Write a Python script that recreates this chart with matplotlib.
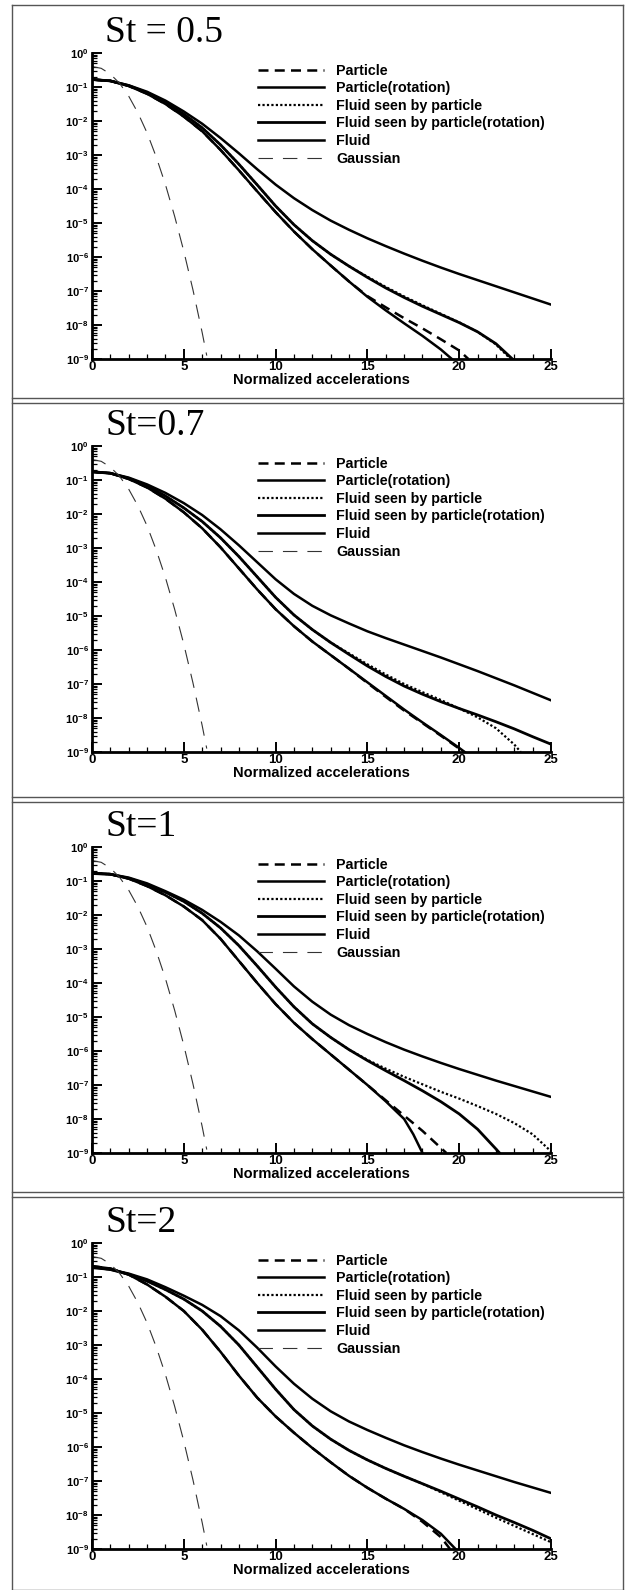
import numpy as np
import matplotlib
matplotlib.use("Agg")
import matplotlib.pyplot as plt
from matplotlib.lines import Line2D
from matplotlib.ticker import LogLocator, FixedLocator, FuncFormatter

plt.rcParams['font.family'] = ['Liberation Sans', 'DejaVu Sans']
plt.rcParams['font.weight'] = 'bold'
plt.rcParams['mathtext.fontset'] = 'custom'
plt.rcParams['mathtext.rm'] = 'Liberation Sans:bold'
plt.rcParams['mathtext.it'] = 'Liberation Sans:bold'
plt.rcParams['mathtext.bf'] = 'Liberation Sans:bold'

# data: log10 of pdf, x = normalized acceleration
titles = ['St = 0.5', 'St=0.7', 'St=1', 'St=2']
labels = ['Particle', 'Particle(rotation)', 'Fluid seen by particle',
          'Fluid seen by particle(rotation)', 'Fluid', 'Gaussian']

acc = list(range(26))

gauss_x = [0, 0.5, 1, 1.5, 2, 2.5, 3, 3.5, 4, 4.5, 5, 5.5, 6, 6.25]
gauss_lp = [-0.4, -0.45, -0.62, -0.89, -1.27, -1.76, -2.35, -3.06, -3.87, -4.8, -5.83, -6.97, -8.22, -8.9]

# St = 0.5
s05_fluid = [-0.78, -0.82, -0.95, -1.14, -1.4, -1.72, -2.08, -2.5, -2.95, -3.42, -3.87, -4.27, -4.62,
             -4.93, -5.2, -5.45, -5.68, -5.9, -6.11, -6.31, -6.5, -6.68, -6.86, -7.04, -7.22, -7.4]
s05_fsprot_x = acc[:23] + [22.9]
s05_fsprot = [-0.78, -0.82, -0.96, -1.17, -1.45, -1.8, -2.2, -2.7, -3.27, -3.88, -4.5, -5.05, -5.52,
              -5.92, -6.27, -6.6, -6.91, -7.19, -7.45, -7.69, -7.93, -8.2, -8.55, -9.0]
s05_fsp_x = acc[:23] + [22.8]
s05_fsp = [-0.78, -0.82, -0.96, -1.17, -1.45, -1.8, -2.2, -2.7, -3.27, -3.88, -4.5, -5.05, -5.52,
           -5.92, -6.27, -6.58, -6.88, -7.16, -7.42, -7.67, -7.92, -8.2, -8.57, -9.0]
s05_prot_x = acc[:20] + [19.6]
s05_prot = [-0.78, -0.82, -0.97, -1.2, -1.5, -1.87, -2.3, -2.85, -3.45, -4.07, -4.68, -5.25, -5.77,
            -6.25, -6.72, -7.17, -7.57, -7.95, -8.32, -8.72, -9.0]
s05_part_x = acc[:21] + [20.5]
s05_part = [-0.78, -0.82, -0.97, -1.2, -1.5, -1.87, -2.3, -2.85, -3.45, -4.07, -4.68, -5.25, -5.77,
            -6.25, -6.72, -7.15, -7.48, -7.8, -8.1, -8.42, -8.75, -9.0]

# St = 0.7
s07_fluid = [-0.75, -0.8, -0.93, -1.13, -1.38, -1.68, -2.03, -2.45, -2.92, -3.42, -3.92, -4.35, -4.7,
             -4.98, -5.22, -5.45, -5.65, -5.84, -6.03, -6.22, -6.42, -6.62, -6.83, -7.04, -7.26, -7.48]
s07_fsprot_x = acc
s07_fsprot = [-0.76, -0.8, -0.95, -1.17, -1.47, -1.82, -2.22, -2.7, -3.25, -3.85, -4.45, -4.97, -5.4,
              -5.78, -6.13, -6.47, -6.78, -7.06, -7.3, -7.52, -7.72, -7.91, -8.11, -8.32, -8.55, -8.77]
s07_fsp_x = acc[:24] + [23.35]
s07_fsp = [-0.76, -0.8, -0.95, -1.17, -1.47, -1.82, -2.22, -2.7, -3.25, -3.85, -4.45, -4.97, -5.4,
           -5.78, -6.1, -6.42, -6.72, -7.0, -7.24, -7.47, -7.72, -7.98, -8.3, -8.78, -9.0]
s07_prot_x = acc[:21] + [20.3]
s07_prot = [-0.76, -0.8, -0.97, -1.22, -1.55, -1.95, -2.42, -2.98, -3.6, -4.22, -4.8, -5.3, -5.75,
            -6.15, -6.55, -6.95, -7.35, -7.75, -8.13, -8.5, -8.88, -9.0]
s07_part_x = acc[:21] + [20.25]
s07_part = [-0.76, -0.8, -0.97, -1.22, -1.55, -1.95, -2.42, -2.98, -3.6, -4.22, -4.8, -5.3, -5.75,
            -6.15, -6.55, -6.97, -7.38, -7.78, -8.15, -8.52, -8.9, -9.0]

# St = 1
s1_fluid = [-0.78, -0.8, -0.9, -1.07, -1.3, -1.55, -1.85, -2.2, -2.6, -3.07, -3.58, -4.1, -4.55,
            -4.93, -5.24, -5.5, -5.74, -5.96, -6.16, -6.35, -6.53, -6.7, -6.87, -7.03, -7.19, -7.35]
s1_fsprot_x = acc[:23] + [22.2]
s1_fsprot = [-0.78, -0.8, -0.92, -1.1, -1.33, -1.6, -1.95, -2.38, -2.9, -3.5, -4.12, -4.7, -5.2,
             -5.6, -5.96, -6.28, -6.58, -6.87, -7.17, -7.49, -7.85, -8.3, -8.88, -9.0]
s1_fsp_x = acc
s1_fsp = [-0.78, -0.8, -0.92, -1.1, -1.33, -1.6, -1.95, -2.38, -2.9, -3.5, -4.12, -4.7, -5.2,
          -5.6, -5.96, -6.26, -6.52, -6.76, -6.98, -7.2, -7.4, -7.62, -7.85, -8.12, -8.45, -8.95]
s1_prot_x = acc[:18] + [17.5, 18.0]
s1_prot = [-0.76, -0.8, -0.93, -1.15, -1.42, -1.75, -2.15, -2.7, -3.35, -4.0, -4.62, -5.17, -5.65,
           -6.1, -6.55, -7.0, -7.48, -8.0, -8.45, -9.0]
s1_part_x = acc[:20] + [19.3]
s1_part = [-0.76, -0.8, -0.93, -1.15, -1.42, -1.75, -2.15, -2.7, -3.35, -4.0, -4.62, -5.17, -5.65,
           -6.1, -6.55, -7.0, -7.45, -7.9, -8.35, -8.85, -9.0]

# St = 2
s2_fluid = [-0.73, -0.78, -0.9, -1.07, -1.3, -1.55, -1.82, -2.15, -2.57, -3.08, -3.63, -4.14, -4.58,
            -4.95, -5.25, -5.5, -5.73, -5.95, -6.15, -6.34, -6.52, -6.69, -6.86, -7.03, -7.19, -7.35]
s2_fsprot_x = acc
s2_fsprot = [-0.7, -0.78, -0.92, -1.12, -1.37, -1.65, -2.0, -2.45, -3.0, -3.65, -4.3, -4.9, -5.38,
             -5.77, -6.1, -6.38, -6.63, -6.86, -7.08, -7.3, -7.53, -7.76, -8.0, -8.22, -8.45, -8.7]
s2_fsp_x = acc
s2_fsp = [-0.7, -0.78, -0.92, -1.12, -1.37, -1.65, -2.0, -2.45, -3.0, -3.65, -4.3, -4.9, -5.38,
          -5.77, -6.1, -6.38, -6.63, -6.86, -7.08, -7.33, -7.58, -7.83, -8.08, -8.32, -8.56, -8.8]
s2_prot_x = acc[:20] + [19.8]
s2_prot = [-0.68, -0.75, -0.93, -1.22, -1.58, -2.0, -2.55, -3.2, -3.9, -4.55, -5.1, -5.58, -6.03,
           -6.45, -6.85, -7.2, -7.52, -7.82, -8.15, -8.55, -9.0]
s2_part_x = acc[:20] + [19.5]
s2_part = [-0.68, -0.75, -0.93, -1.22, -1.58, -2.0, -2.55, -3.2, -3.9, -4.55, -5.1, -5.58, -6.03,
           -6.45, -6.85, -7.2, -7.52, -7.82, -8.2, -8.65, -9.0]

panels = [
    [(s05_part_x, s05_part), (s05_prot_x, s05_prot), (s05_fsp_x, s05_fsp),
     (s05_fsprot_x, s05_fsprot), (acc, s05_fluid)],
    [(s07_part_x, s07_part), (s07_prot_x, s07_prot), (s07_fsp_x, s07_fsp),
     (s07_fsprot_x, s07_fsprot), (acc, s07_fluid)],
    [(s1_part_x, s1_part), (s1_prot_x, s1_prot), (s1_fsp_x, s1_fsp),
     (s1_fsprot_x, s1_fsprot), (acc, s1_fluid)],
    [(s2_part_x, s2_part), (s2_prot_x, s2_prot), (s2_fsp_x, s2_fsp),
     (s2_fsprot_x, s2_fsprot), (acc, s2_fluid)],
]

styles = [
    dict(color='k', lw=1.8, ls=(0, (4, 2.5))),
    dict(color='k', lw=1.8, ls='-'),
    dict(color='k', lw=1.6, ls=(0, (1, 1))),
    dict(color='k', lw=2.0, ls='-'),
    dict(color='k', lw=1.8, ls='-'),
]
gauss_style = dict(color='#333333', lw=0.8, ls=(0, (13, 9)))

W, H = 626, 1590
fig = plt.figure(figsize=(W / 100, H / 100), dpi=100)


def fx(px):
    return px / W


def fy(py):
    return 1 - py / H


def hline(py, x0=11.5, x1=623):
    fig.add_artist(Line2D([fx(x0), fx(x1)], [fy(py), fy(py)], color='#555555', lw=1.0))


# outer frame and double separators
fig.add_artist(Line2D([fx(11.5), fx(11.5)], [fy(5), fy(1589.5)], color='#555555', lw=1.0))
fig.add_artist(Line2D([fx(623), fx(623)], [fy(5), fy(1589.5)], color='#555555', lw=1.0))
hline(5)
hline(1589.5)
for sep in (398, 797, 1192):
    hline(sep)
    hline(sep + 5)

offsets = [0, 393, 794, 1190]


def fmt_pow(v, pos):
    e = int(round(np.log10(v)))
    return r'$10^{%d}$' % e


for i, off in enumerate(offsets):
    ax = fig.add_axes([fx(92), fy(359 + off), fx(551) - fx(92), (306) / H])
    fig.text(fx(105), fy(33 + off), titles[i], family='Liberation Serif', fontweight='normal',
             size=27, ha='left', va='center')

    for (xs, lp), st, lab in zip(panels[i], styles, labels[:5]):
        ax.plot(xs, 10 ** np.array(lp), label=lab, **st)
    ax.plot(gauss_x, 10 ** np.array(gauss_lp), label=labels[5], **gauss_style)

    ax.set_yscale('log')
    ax.set_xlim(0, 25)
    ax.set_ylim(1e-9, 1)
    ax.yaxis.set_major_locator(LogLocator(base=10, numticks=20))
    ax.yaxis.set_minor_locator(LogLocator(base=10, subs=np.arange(2, 10), numticks=20))
    ax.yaxis.set_major_formatter(FuncFormatter(fmt_pow))
    ax.xaxis.set_major_locator(FixedLocator([0, 5, 10, 15, 20, 25]))
    ax.xaxis.set_minor_locator(FixedLocator(np.arange(0, 26)))

    for s in ('top', 'right'):
        ax.spines[s].set_visible(False)
    for s in ('left', 'bottom'):
        ax.spines[s].set_linewidth(2.0)

    ax.tick_params(which='major', direction='in', length=7, width=1.4)
    ax.tick_params(which='minor', direction='in', length=3.5, width=0.9)
    ax.tick_params(axis='x', which='major', labelsize=9.5, pad=1.5)
    ax.tick_params(axis='y', which='major', labelsize=8, pad=2.5)
    for t in ax.get_xticklabels():
        t.set_fontweight('bold')

    ax.set_xlabel('Normalized accelerations', fontsize=10.5, fontweight='bold', labelpad=0)

    ax.legend(loc='upper left', bbox_to_anchor=(0.362, 0.965), frameon=False,
              handlelength=4.6, handletextpad=0.85, labelspacing=0.25,
              borderpad=0, borderaxespad=0, prop={'weight': 'bold', 'size': 10.3})

fig.savefig('out.png', dpi=100)
